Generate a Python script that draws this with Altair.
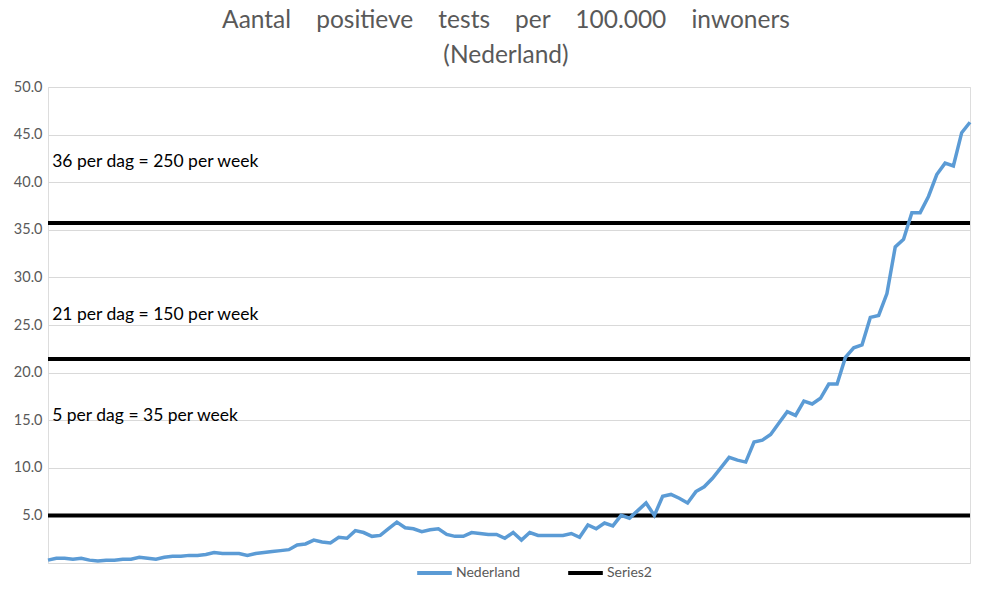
import altair as alt
import pandas as pd

# Daily values (per 100.000 inwoners)
values = [
    0.3, 0.5, 0.5, 0.4, 0.5, 0.3, 0.2, 0.3, 0.3, 0.4,
    0.4, 0.6, 0.5, 0.4, 0.6, 0.7, 0.7, 0.8, 0.8, 0.9,
    1.1, 1.0, 1.0, 1.0, 0.8, 1.0, 1.1, 1.2, 1.3, 1.4,
    1.9, 2.0, 2.4, 2.2, 2.1, 2.7, 2.6, 3.4, 3.2, 2.8,
    2.9, 3.6, 4.3, 3.7, 3.6, 3.3, 3.5, 3.6, 3.0, 2.8,
    2.8, 3.2, 3.1, 3.0, 3.0, 2.6, 3.2, 2.4, 3.2, 2.9,
    2.9, 2.9, 2.9, 3.1, 2.7, 4.0, 3.6, 4.2, 3.9, 5.0,
    4.7, 5.5, 6.3, 5.0, 7.0, 7.2, 6.8, 6.3, 7.5, 8.0,
    8.9, 10.0, 11.1, 10.8, 10.6, 12.7, 12.9, 13.5, 14.7, 15.9,
    15.5, 17.0, 16.7, 17.3, 18.8, 18.8, 21.6, 22.6, 22.9, 25.8,
    26.0, 28.3, 33.2, 34.0, 36.8, 36.8, 38.5, 40.8, 42.0, 41.7,
    45.2, 46.3,
]
days = list(range(len(values)))

series_names = ["Nederland", "Series2"]
series_colors = ["#5b9bd5", "#000000"]

threshold_values = [35 / 7, 150 / 7, 250 / 7]
annotation_texts = [
    "5 per dag = 35 per week",
    "21 per dag = 150 per week",
    "36 per dag = 250 per week",
]
annotation_y = [15.4, 26.0, 42.1]
annotation_x = [0.5, 0.5, 0.5]

y_ticks = [0, 5, 10, 15, 20, 25, 30, 35, 40, 45, 50]

title_words = ["Aantal", "positieve", "tests", "per", "100.000", "inwoners"]
GAP = "\u00a0\u00a0\u00a0 "
title_lines = [GAP.join(title_words), "(Nederland)"]

line_df = pd.DataFrame({"dag": days, "waarde": values, "series": series_names[0]})
rule_df = pd.DataFrame({"waarde": threshold_values, "series": series_names[1]})
text_df = pd.DataFrame({"dag": annotation_x, "waarde": annotation_y, "tekst": annotation_texts})

FONT = "Lato"

color = alt.Color(
    "series:N",
    scale=alt.Scale(domain=series_names, range=series_colors),
    legend=alt.Legend(
        title=None,
        orient="none",
        legendX=367,
        legendY=482,
        direction="horizontal",
        symbolType="stroke",
        symbolStrokeWidth=4,
        symbolSize=1200,
        clipHeight=8,
        labelFontSize=14,
        labelFont=FONT,
        labelColor="#595959",
        columnPadding=45,
        labelOffset=2,
        padding=0,
    ),
)

y_enc = alt.Y(
    "waarde:Q",
    scale=alt.Scale(domain=[0, 50], nice=False),
    axis=alt.Axis(
        values=y_ticks,
        format=".1f",
        labelExpr="datum.value == 0 ? '' : datum.label",
        ticks=False,
        domain=False,
        gridColor="#d9d9d9",
        gridWidth=1,
        labelColor="#595959",
        labelFontSize=14.5,
        labelFont=FONT,
        labelPadding=6,
        minExtent=40,
        maxExtent=40,
        title=None,
    ),
)

x_enc = alt.X(
    "dag:Q",
    scale=alt.Scale(domain=[0, len(values) - 1], nice=False, zero=False),
    axis=None,
)

line = alt.Chart(line_df).mark_line(strokeWidth=3.5).encode(x=x_enc, y=y_enc, color=color)

rules = alt.Chart(rule_df).mark_rule(strokeWidth=4).encode(y=alt.Y("waarde:Q"), color=color)

texts = alt.Chart(text_df).mark_text(
    align="left", baseline="middle", fontSize=17.5, font=FONT, color="#000000"
).encode(x=alt.X("dag:Q"), y=alt.Y("waarde:Q"), text="tekst:N")

chart = (
    alt.layer(rules, line, texts)
    .properties(
        width=922,
        height=476,
        padding={"left": 0, "top": 0, "right": 0, "bottom": 0},
        title=alt.TitleParams(
            title_lines,
            fontSize=24.5,
            font=FONT,
            fontWeight="normal",
            color="#595959",
            lineHeight=35,
            offset=10.5,
            anchor="middle",
            dx=-3,
        ),
    )
    .configure_view(stroke=None)
    .configure(font=FONT)
)

chart.save("out.html", embed_options={"renderer": "svg", "actions": False})
